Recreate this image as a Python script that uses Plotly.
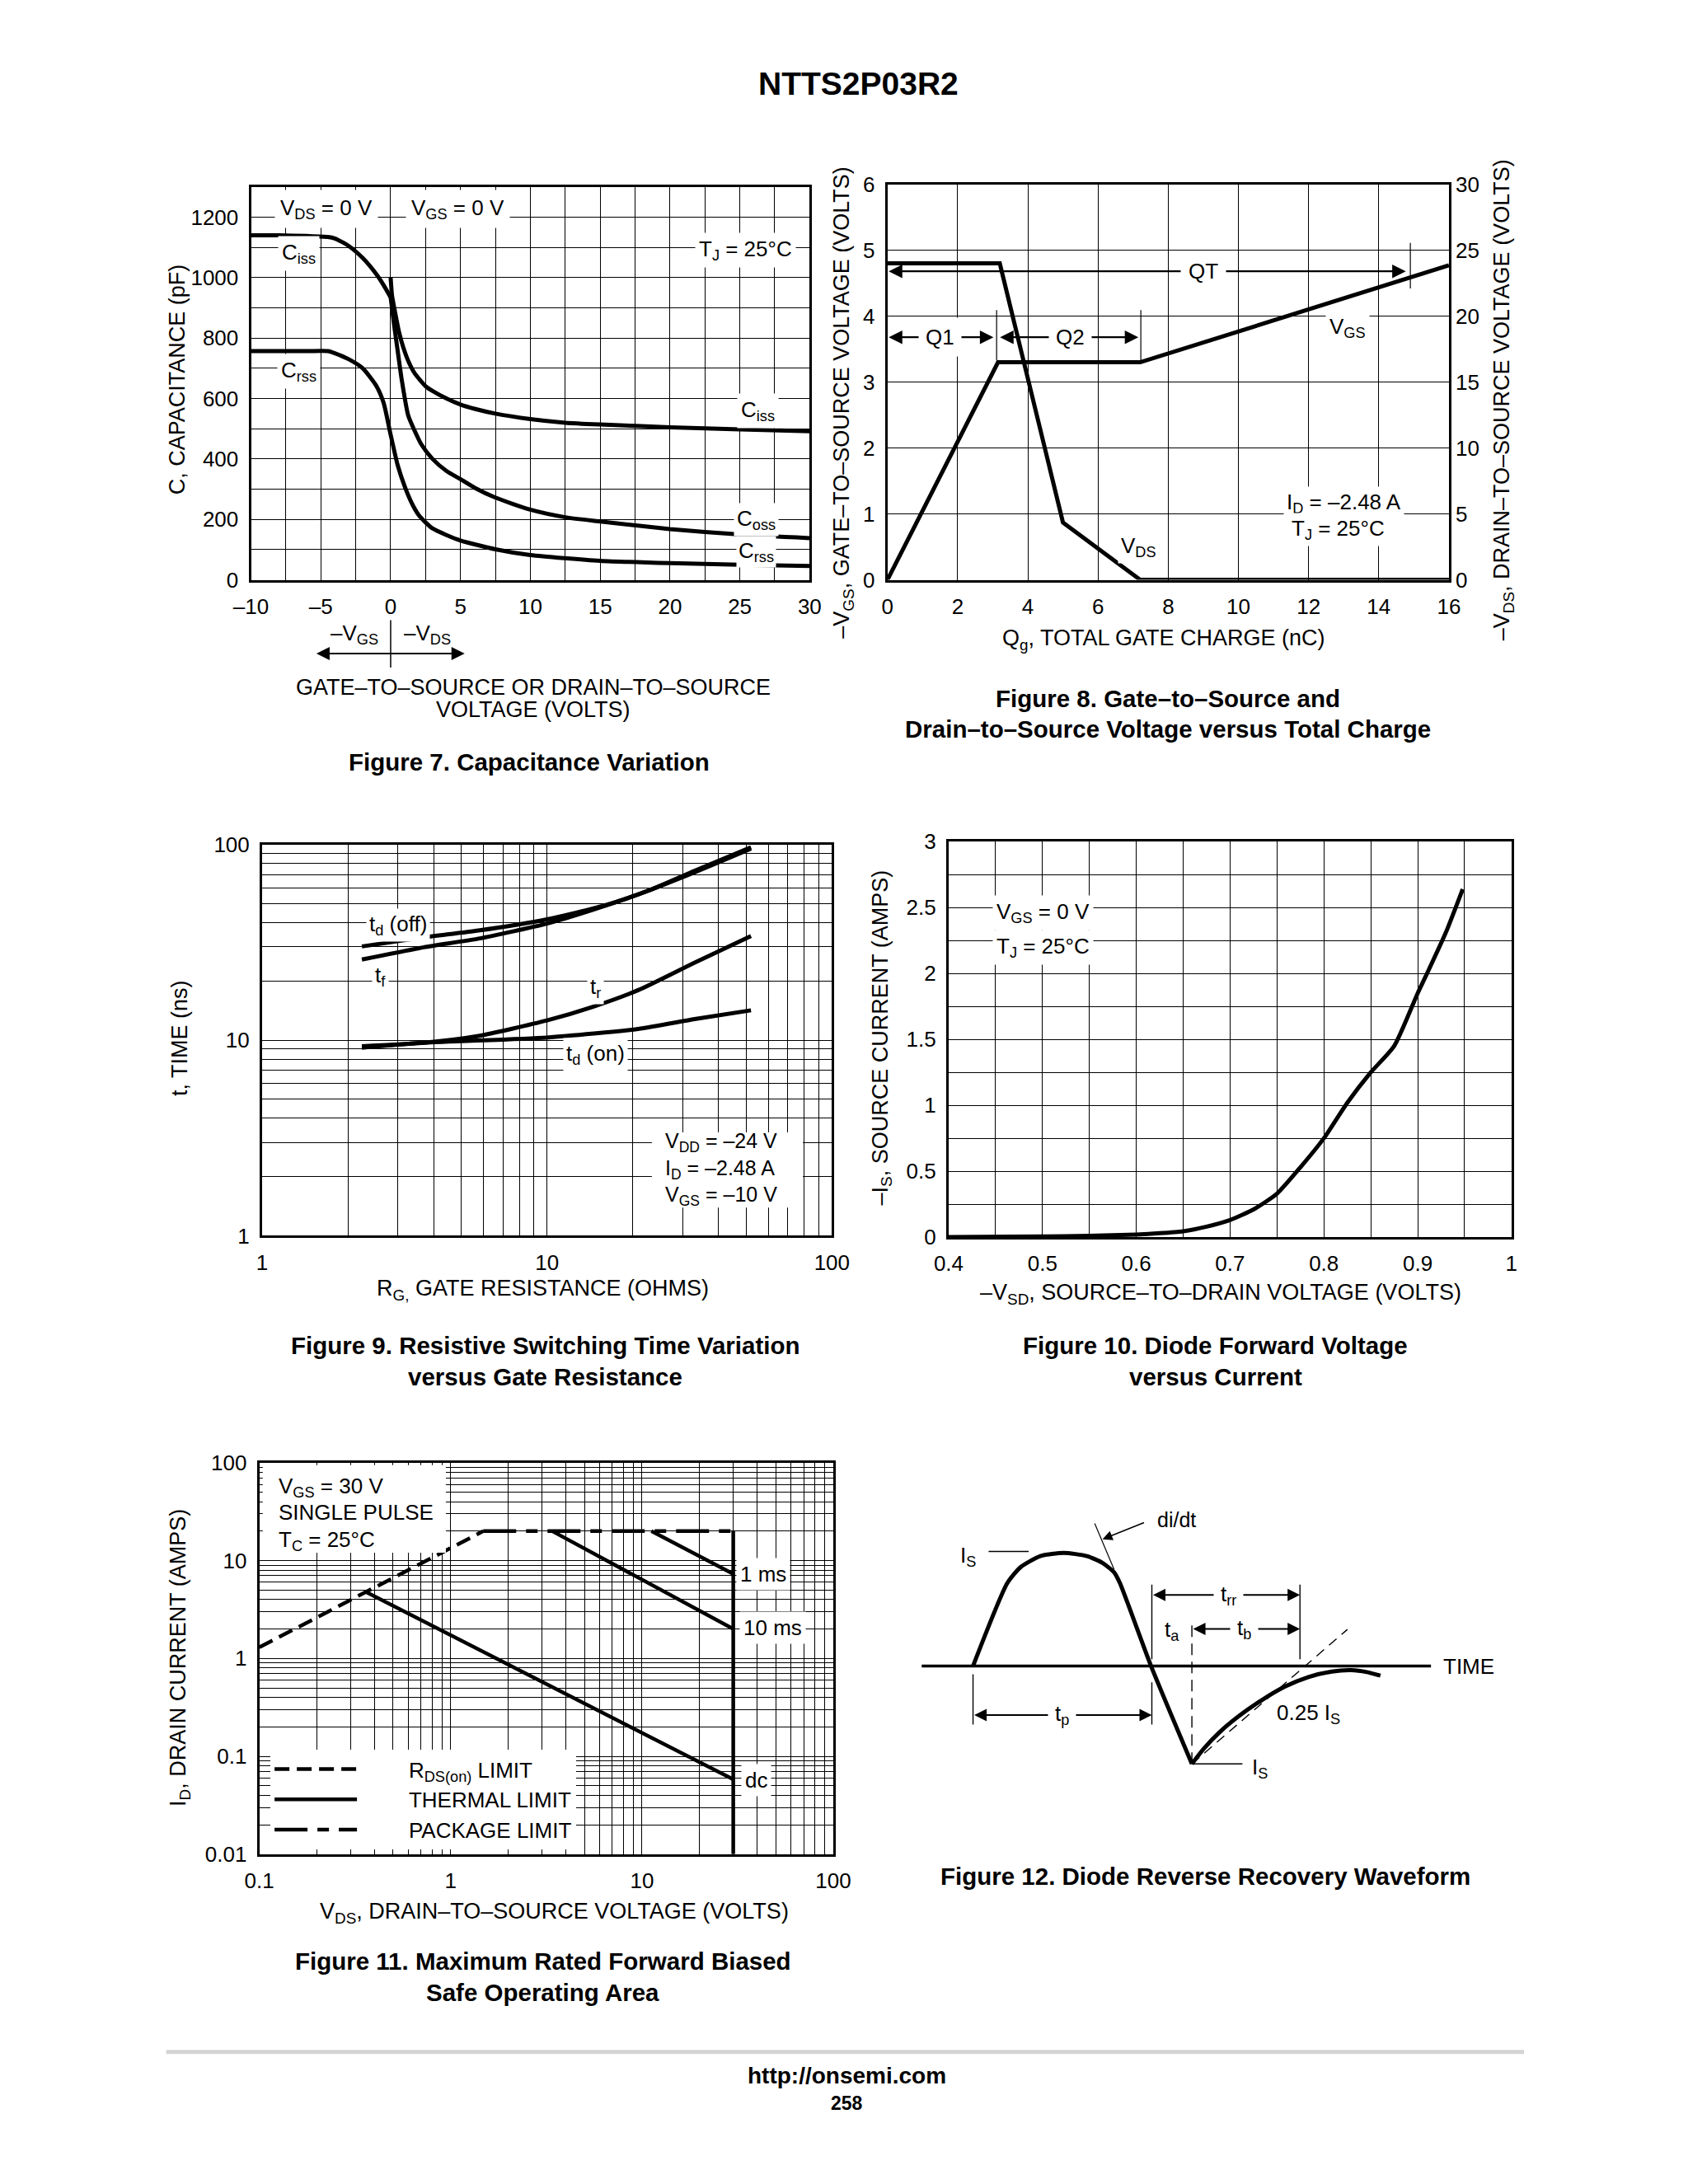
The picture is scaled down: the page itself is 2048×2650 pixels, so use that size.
import math
import plotly.graph_objects as go

# ---------------- DATA ----------------
# Figure 7: capacitance vs voltage (left side = -VGS, right side = -VDS)
ciss_left_v = [-10, -8, -6, -4.5, -4, -3, -2, -1, -0.5, 0]
ciss_left_c = [1140, 1140, 1138, 1135, 1130, 1105, 1065, 1010, 975, 935]
ciss_right_v = [0, 0.1, 0.3, 0.6, 0.9, 1.3, 1.7, 2.5, 3, 4, 5, 6, 7.5, 10, 12.5, 15, 20, 25, 30]
ciss_right_c = [1000, 940, 890, 820, 770, 720, 685, 641, 625, 600, 580, 566, 550, 532, 520, 514, 505, 498, 492]
coss_v = [0, 0.2, 0.45, 0.8, 1.25, 1.7, 2.2, 3.0, 4.0, 5.0, 6.0, 7.5, 10, 12.5, 15, 20, 25, 30]
coss_c = [935, 860, 776, 660, 545, 495, 448, 400, 360, 333, 305, 272, 232, 207, 193, 168, 150, 138]
crss_v = [-10, -6, -4.5, -4, -3, -2, -1, -0.5, 0, 0.5, 1, 1.5, 2, 2.5, 3, 4, 5, 7.5, 10, 15, 20, 25, 30]
crss_c = [757, 757, 757, 750, 730, 700, 640, 585, 480, 380, 310, 255, 215, 190, 170, 148, 130, 101, 82, 63, 55, 50, 46]
cap_x_grid = [-10, -7.5, -5, -2.5, 0, 2.5, 5, 7.5, 10, 12.5, 15, 17.5, 20, 22.5, 25, 27.5, 30]
cap_x_text = ['–10', '', '–5', '', '0', '', '5', '', '10', '', '15', '', '20', '', '25', '', '30']
cap_y_grid = [0, 100, 200, 300, 400, 500, 600, 700, 800, 900, 1000, 1100, 1200, 1300]
cap_y_text = ['0', '', '200', '', '400', '', '600', '', '800', '', '1000', '', '1200', '']

# Figure 8: gate charge
vgs_qg = [0, 3.15, 7.2, 16]
vgs_v = [0, 3.3, 3.3, 4.77]
vds_qg = [0, 3.2, 5.0, 7.2, 16]
vds_v = [24, 24, 4.35, 0, 0]
qg_ticks = [0, 2, 4, 6, 8, 10, 12, 14, 16]
vgs_ticks = [0, 1, 2, 3, 4, 5, 6]
vds_ticks = [0, 5, 10, 15, 20, 25, 30]

# Figure 9: switching time vs gate resistance
tdoff_rg = [2.24, 3.7, 5.75, 10, 15.9, 22.9, 33, 52]
tdoff_t = [30.1, 33.5, 36.3, 41.4, 48.7, 58.3, 73.3, 96.8]
tf_rg = [2.24, 3.7, 5.75, 10, 14.5, 20.9, 33, 52]
tf_t = [25.8, 29.8, 33.0, 39.4, 46.4, 55.6, 72.1, 95.2]
tr_rg = [2.24, 3.7, 5.75, 10, 14.5, 20.9, 33, 52]
tr_t = [9.3, 9.7, 10.5, 12.6, 14.8, 18.0, 24.9, 34.0]
tdon_rg = [2.24, 3.7, 10, 20.9, 33, 52]
tdon_t = [9.15, 9.7, 10.3, 11.4, 12.8, 14.2]
log_grid_1_100 = [1, 2, 3, 4, 5, 6, 7, 8, 9, 10, 20, 30, 40, 50, 60, 70, 80, 90, 100]
log_text_1_100 = ['1', '', '', '', '', '', '', '', '', '10', '', '', '', '', '', '', '', '', '100']

# Figure 10: diode forward voltage
vsd = [0.40, 0.50, 0.55, 0.60, 0.625, 0.65, 0.675, 0.70, 0.725, 0.75, 0.775, 0.80, 0.825, 0.85, 0.875, 0.90, 0.91, 0.93, 0.948]
i_s = [0.0, 0.005, 0.01, 0.02, 0.03, 0.045, 0.08, 0.13, 0.21, 0.33, 0.53, 0.75, 1.02, 1.25, 1.45, 1.85, 2.0, 2.31, 2.64]
vsd_grid = [0.4, 0.45, 0.5, 0.55, 0.6, 0.65, 0.7, 0.75, 0.8, 0.85, 0.9, 0.95, 1.0]
vsd_text = ['0.4', '', '0.5', '', '0.6', '', '0.7', '', '0.8', '', '0.9', '', '1']
is_grid = [0, 0.25, 0.5, 0.75, 1, 1.25, 1.5, 1.75, 2, 2.25, 2.5, 2.75, 3]
is_text = ['0', '', '0.5', '', '1', '', '1.5', '', '2', '', '2.5', '', '3']

# Figure 11: safe operating area
soa_rds_v = [0.1, 1.48]
soa_rds_i = [1.3, 20]
soa_pkg_v = [1.48, 30]
soa_pkg_i = [20, 20]
soa_dc_v = [0.36, 30]
soa_dc_i = [4.8, 0.058]
soa_10ms_v = [3.4, 30]
soa_10ms_i = [20, 2.0]
soa_1ms_v = [11.2, 30]
soa_1ms_i = [20, 7.3]
soa_vmax_v = [30, 30]
soa_vmax_i = [20, 0.01]
soa_x_grid = [0.1, 0.2, 0.3, 0.4, 0.5, 0.6, 0.7, 0.8, 0.9, 1, 2, 3, 4, 5, 6, 7, 8, 9, 10,
              20, 30, 40, 50, 60, 70, 80, 90, 100]
soa_x_text = ['0.1'] + [''] * 8 + ['1'] + [''] * 8 + ['10'] + [''] * 8 + ['100']
soa_y_grid = [0.01, 0.02, 0.03, 0.04, 0.05, 0.06, 0.07, 0.08, 0.09, 0.1, 0.2, 0.3, 0.4, 0.5, 0.6,
              0.7, 0.8, 0.9, 1, 2, 3, 4, 5, 6, 7, 8, 9, 10, 20, 30, 40, 50, 60, 70, 80, 90, 100]
soa_y_text = ['0.01'] + [''] * 8 + ['0.1'] + [''] * 8 + ['1'] + [''] * 8 + ['10'] + [''] * 8 + ['100']

# Figure 12: diode reverse recovery waveform (schematic units)
wave_t = [1.27, 2.15, 2.50, 3.00, 3.60, 4.20, 4.60, 4.90, 5.05, 5.85, 6.90]
wave_i = [0, 3.05, 3.65, 4.05, 4.17, 4.05, 3.80, 3.45, 3.05, 0, -3.60]
recov_t = [6.90, 7.20, 7.60, 8.10, 8.70, 9.30, 9.90, 10.50, 11.00, 11.40, 11.75]
recov_i = [-3.60, -3.05, -2.45, -1.85, -1.25, -0.75, -0.40, -0.20, -0.15, -0.22, -0.35]

# ---------------- LAYOUT HELPERS ----------------
W, H = 1224.0, 1584.0   # page frame units
CX, SX = 15.2, 0.971    # frame calibration
CY, SY = 13.3, 0.9788


def px(x):
    return ((x - CX) / SX) / W


def py(y):
    return 1 - ((y - CY) / SY) / H


FONT = "Liberation Sans, Arial, Helvetica, sans-serif"
L10 = math.log10
TK = 26       # tick label size
AT = 27       # axis title size
LB = 26       # in-plot label size
FT = 29.5     # figure caption size
NB = '\u00a0'

fig = go.Figure()


def add(x, y, xa, ya, width=5, dash='solid', name=None, legend=False, spline=False):
    line = dict(color='black', width=width, dash=dash)
    if spline:
        line['shape'] = 'spline'
        line['smoothing'] = 0.6
    fig.add_trace(go.Scatter(x=x, y=y, xaxis=xa, yaxis=ya, mode='lines', line=line,
                             name=name, showlegend=legend, hoverinfo='skip'))


def axstyle(**kw):
    d = dict(showline=True, linecolor='black', linewidth=3, mirror=True,
             showgrid=True, gridcolor='black', gridwidth=1.4, zeroline=False,
             ticks='', tickmode='array', tickfont=dict(size=TK, color='black', family=FONT),
             ticklabelstandoff=7, fixedrange=True)
    d.update(kw)
    return d


ann = []
shapes = []


def text(x, y, s, xref='paper', yref='paper', size=LB, bold=False, bg=None, angle=0,
         xanchor='center', yanchor='middle', align='center', pad=2):
    if bold:
        s = '<b>' + s + '</b>'
    d = dict(x=x, y=y, xref=xref, yref=yref, text=s, showarrow=False,
             font=dict(size=size, color='black', family=FONT), textangle=angle,
             xanchor=xanchor, yanchor=yanchor, align=align, borderpad=pad)
    if bg:
        d['bgcolor'] = bg
    ann.append(d)


def arrow(x0, y0, x1, y1, xref, yref, both=False, width=2.2, size=1.5, ayref=None):
    ann.append(dict(x=x1, y=y1, ax=x0, ay=y0, xref=xref, yref=yref, axref=xref,
                    ayref=ayref or yref, text='', showarrow=True, arrowhead=2, startarrowhead=2,
                    arrowsize=size, startarrowsize=size, arrowwidth=width, arrowcolor='black',
                    arrowside='end+start' if both else 'end', standoff=0, startstandoff=0))


def seg(x0, y0, x1, y1, xref, yref, width=1.5, dash='solid', color='black'):
    shapes.append(dict(type='line', x0=x0, y0=y0, x1=x1, y1=y1, xref=xref, yref=yref,
                       line=dict(color=color, width=width, dash=dash)))


def whitebox(x0, y0, x1, y1, xref, yref):
    shapes.append(dict(type='rect', x0=x0, y0=y0, x1=x1, y1=y1, xref=xref, yref=yref,
                       fillcolor='white', line=dict(width=0), layer='above'))


# ---------------- FIGURE 7 ----------------
add(ciss_left_v, ciss_left_c, 'x', 'y', spline=True)
add(ciss_right_v, ciss_right_c, 'x', 'y', spline=True)
add(coss_v, coss_c, 'x', 'y', spline=True)
add(crss_v, crss_c, 'x', 'y', spline=True)

# ---------------- FIGURE 8 ----------------
add(vgs_qg, vgs_v, 'x2', 'y2')
add(vds_qg, vds_v, 'x2', 'y3')

# ---------------- FIGURE 9 ----------------
add(tdoff_rg, tdoff_t, 'x4', 'y4', spline=True)
add(tf_rg, tf_t, 'x4', 'y4', spline=True)
add(tr_rg, tr_t, 'x4', 'y4', spline=True)
add(tdon_rg, tdon_t, 'x4', 'y4', spline=True)

# ---------------- FIGURE 10 ----------------
add(vsd, i_s, 'x5', 'y5', spline=True)

# ---------------- FIGURE 11 ----------------
pad_name = NB * 8
add(soa_rds_v, soa_rds_i, 'x6', 'y6', width=4.5, dash='18px,9px', name=pad_name + 'R<sub>DS(on)</sub> LIMIT', legend=True)
add(soa_dc_v, soa_dc_i, 'x6', 'y6', width=4.5, name=pad_name + 'THERMAL LIMIT', legend=True)
add(soa_pkg_v, soa_pkg_i, 'x6', 'y6', width=4.5, dash='40px,12px,14px,12px', name=pad_name + 'PACKAGE LIMIT', legend=True)
add(soa_10ms_v, soa_10ms_i, 'x6', 'y6', width=4.5)
add(soa_1ms_v, soa_1ms_i, 'x6', 'y6', width=4.5)
add(soa_vmax_v, soa_vmax_i, 'x6', 'y6', width=4.5)

# ---------------- FIGURE 12 ----------------
add(wave_t, wave_i, 'x7', 'y7', width=5, spline=True)
add(recov_t, recov_i, 'x7', 'y7', width=5, spline=True)

# ---------------- AXES ----------------
layout = dict(
    width=2048, height=2650, margin=dict(l=0, r=0, t=0, b=0),
    paper_bgcolor='white', plot_bgcolor='white',
    font=dict(family=FONT, color='black', size=TK),
    xaxis=axstyle(domain=[px(178), px(580)], range=[-10, 30], tickvals=cap_x_grid, ticktext=cap_x_text, anchor='y'),
    yaxis=axstyle(domain=[py(416), py(134)], range=[0, 1300], tickvals=cap_y_grid, ticktext=cap_y_text, anchor='x'),
    xaxis2=axstyle(domain=[px(636), px(1040)], range=[0, 16], tickvals=qg_ticks, ticktext=[str(v) for v in qg_ticks], anchor='y2'),
    yaxis2=axstyle(domain=[py(416), py(132)], range=[0, 6], tickvals=vgs_ticks, ticktext=[str(v) for v in vgs_ticks], anchor='x2'),
    yaxis3=axstyle(range=[0, 30], tickvals=vds_ticks, ticktext=[str(v) for v in vds_ticks], anchor='x2',
                   overlaying='y2', side='right', showgrid=False, showline=False, mirror=False),
    xaxis4=axstyle(type='log', domain=[px(186), px(596)], range=[0, 2], tickvals=log_grid_1_100, ticktext=log_text_1_100, anchor='y4'),
    yaxis4=axstyle(type='log', domain=[py(887), py(606)], range=[0, 2], tickvals=log_grid_1_100, ticktext=log_text_1_100, anchor='x4'),
    xaxis5=axstyle(domain=[px(680), px(1085)], range=[0.4, 1.0], tickvals=vsd_grid, ticktext=vsd_text, anchor='y5'),
    yaxis5=axstyle(domain=[py(888), py(604)], range=[0, 3], tickvals=is_grid, ticktext=is_text, anchor='x5'),
    xaxis6=axstyle(type='log', domain=[px(184), px(597)], range=[-1, 2], tickvals=soa_x_grid, ticktext=soa_x_text, anchor='y6'),
    yaxis6=axstyle(type='log', domain=[py(1331), py(1050)], range=[-2, 2], tickvals=soa_y_grid, ticktext=soa_y_text, anchor='x6'),
    xaxis7=dict(domain=[px(650), px(1090)], range=[-0.43, 15.3], visible=False, anchor='y7', fixedrange=True),
    yaxis7=dict(domain=[py(1290), py(1070)], range=[-4.82, 6.46], visible=False, anchor='x7', fixedrange=True),
    showlegend=True,
    legend=dict(x=px(192), y=py(1256), xanchor='left', yanchor='top', bgcolor='white',
                font=dict(size=26, color='black', family=FONT), tracegroupgap=0,
                itemwidth=100, borderwidth=0, traceorder='normal'),
)

# ---------------- TEXT: page ----------------
text(px(615), py(60), 'NTTS2P03R2', size=39, bold=True)
shapes.append(dict(type='line', xref='paper', yref='paper', x0=px(117), x1=px(1094), y0=py(1473), y1=py(1473),
                   line=dict(color='#d4d4d4', width=5)))
text(px(607), py(1490), 'http://onsemi.com', size=28, bold=True)
text(px(607), py(1510), '258', size=23, bold=True)

# ---------------- TEXT: figure 7 ----------------
text(-4.6, 1228, 'V<sub>DS</sub> = 0 V', 'x', 'y', bg='white', pad=6)
text(4.8, 1228, 'V<sub>GS</sub> = 0 V', 'x', 'y', bg='white', pad=6)
text(-6.6, 1080, 'C<sub>iss</sub>', 'x', 'y', bg='white', pad=4)
text(-6.6, 690, 'C<sub>rss</sub>', 'x', 'y', bg='white', pad=4)
text(25.4, 1090, 'T<sub>J</sub> = 25°C', 'x', 'y', bg='white', pad=4)
text(26.3, 560, 'C<sub>iss</sub>', 'x', 'y', bg='white', pad=4)
text(26.2, 200, 'C<sub>oss</sub>', 'x', 'y', bg='white', pad=3)
text(26.2, 92, 'C<sub>rss</sub>', 'x', 'y', bg='white', pad=2)
arrow(-5.4, py(469), 5.3, py(469), 'x', 'paper', both=True, width=2, size=1.6, ayref='pixel')
ann[-1]['ay'] = 0
shapes.append(dict(type='line', xref='x', yref='paper', x0=0, x1=0, y0=py(445), y1=py(479),
                   line=dict(color='black', width=1.5)))
text(-2.6, py(455), '–V<sub>GS</sub>', 'x', 'paper')
text(2.6, py(455), '–V<sub>DS</sub>', 'x', 'paper')
text(px(381), py(493), 'GATE–TO–SOURCE OR DRAIN–TO–SOURCE', size=AT)
text(px(381), py(509), 'VOLTAGE (VOLTS)', size=AT)
text(px(378), py(547), 'Figure 7. Capacitance Variation', size=FT, bold=True)
text(px(125), py(272), 'C, CAPACITANCE (pF)', size=AT, angle=-90)

# ---------------- TEXT: figure 8 ----------------
arrow(0, 4.68, 14.77, 4.68, 'x2', 'y2', both=True)
arrow(0, 3.68, 3.02, 3.68, 'x2', 'y2', both=True)
arrow(3.17, 3.68, 7.15, 3.68, 'x2', 'y2', both=True)
seg(3.11, 3.33, 3.11, 4.09, 'x2', 'y2', width=1.2)
seg(7.22, 3.3, 7.22, 4.09, 'x2', 'y2', width=1.2)
seg(14.9, 4.42, 14.9, 5.11, 'x2', 'y2', width=1.2)
text(9.0, 4.68, 'QT', 'x2', 'y2', bg='white', pad=9)
text(1.5, 3.68, 'Q1', 'x2', 'y2', bg='white', pad=8)
text(5.2, 3.68, 'Q2', 'x2', 'y2', bg='white', pad=8)
text(13.1, 3.82, 'V<sub>GS</sub>', 'x2', 'y2', bg='white', pad=4)
text(7.15, 0.5, 'V<sub>DS</sub>', 'x2', 'y2', bg='white', pad=3)
text(13.0, 1.16, 'I<sub>D</sub> = –2.48 A', 'x2', 'y2', bg='white', pad=3)
text(12.85, 0.76, 'T<sub>J</sub> = 25°C', 'x2', 'y2', bg='white', pad=3)
text(px(604), py(289), '–V<sub>GS</sub>, GATE–TO–SOURCE VOLTAGE (VOLTS)', size=AT, angle=-90)
text(px(1079), py(287), '–V<sub>DS</sub>, DRAIN–TO–SOURCE VOLTAGE (VOLTS)', size=AT, angle=-90)
text(px(835), py(459), 'Q<sub>g</sub>, TOTAL GATE CHARGE (nC)', size=AT)
text(px(838), py(501), 'Figure 8. Gate–to–Source and', size=FT, bold=True)
text(px(838), py(523), 'Drain–to–Source Voltage versus Total Charge', size=FT, bold=True)

# ---------------- TEXT: figure 9 ----------------
whitebox(0.684, 0.072, 0.949, 0.264, 'x4 domain', 'y4 domain')
text(L10(3.0), L10(38.8), 't<sub>d</sub> (off)', 'x4', 'y4', bg='white', pad=3)
text(L10(2.6), L10(21.2), 't<sub>f</sub>', 'x4', 'y4', bg='white', pad=3)
text(L10(14.8), L10(18.6), 't<sub>r</sub>', 'x4', 'y4', bg='white', pad=3)
text(L10(14.8), L10(8.4), 't<sub>d</sub> (on)', 'x4', 'y4', bg='white', pad=3)
text(L10(25.5), L10(2.2), 'V<sub>DD</sub> = –24 V<br>I<sub>D</sub> = –2.48 A<br>V<sub>GS</sub> = –10 V',
     'x4', 'y4', xanchor='left', align='left', size=25)
text(px(127), py(745), 't, TIME (ns)', size=AT, angle=-90)
text(px(388), py(926), 'R<sub>G,</sub> GATE RESISTANCE (OHMS)', size=AT)
text(px(390), py(966), 'Figure 9. Resistive Switching Time Variation', size=FT, bold=True)
text(px(390), py(988), 'versus Gate Resistance', size=FT, bold=True)

# ---------------- TEXT: figure 10 ----------------
text(0.447, 2.46, 'V<sub>GS</sub> = 0 V', 'x5', 'y5', bg='white', pad=4, xanchor='left')
text(0.447, 2.2, 'T<sub>J</sub> = 25°C', 'x5', 'y5', bg='white', pad=4, xanchor='left')
text(px(632), py(745), '–I<sub>S</sub>, SOURCE CURRENT (AMPS)', size=AT, angle=-90)
text(px(876), py(929), '–V<sub>SD</sub>, SOURCE–TO–DRAIN VOLTAGE (VOLTS)', size=AT)
text(px(872), py(966), 'Figure 10. Diode Forward Voltage', size=FT, bold=True)
text(px(872), py(988), 'versus Current', size=FT, bold=True)

# ---------------- TEXT: figure 11 ----------------
whitebox(0.006, 0.77, 0.325, 0.994, 'x6 domain', 'y6 domain')
text(L10(0.122), L10(56), 'V<sub>GS</sub> = 30 V', 'x6', 'y6', xanchor='left')
text(L10(0.122), L10(31.3), 'SINGLE PULSE', 'x6', 'y6', xanchor='left')
text(L10(0.122), L10(16), 'T<sub>C</sub> = 25°C', 'x6', 'y6', xanchor='left')
text(L10(43), L10(7.3), '1 ms', 'x6', 'y6', bg='white', pad=4)
text(L10(48), L10(2.05), '10 ms', 'x6', 'y6', bg='white', pad=4)
text(L10(39.5), L10(0.057), 'dc', 'x6', 'y6', bg='white', pad=4)
text(px(127), py(1190), 'I<sub>D</sub>, DRAIN CURRENT (AMPS)', size=AT, angle=-90)
text(px(396), py(1373), 'V<sub>DS</sub>, DRAIN–TO–SOURCE VOLTAGE (VOLTS)', size=AT)
text(px(388), py(1408), 'Figure 11. Maximum Rated Forward Biased', size=FT, bold=True)
text(px(388), py(1430), 'Safe Operating Area', size=FT, bold=True)

# ---------------- TEXT: figure 12 ----------------
seg(-0.05, 0, 13.05, 0, 'x7', 'y7', width=3.5)
seg(6.90, -3.60, 10.90, 1.35, 'x7', 'y7', width=1.4, dash='12px,8px')
seg(6.90, -3.60, 6.90, 1.70, 'x7', 'y7', width=1.4, dash='14px,8px')
seg(5.87, 0.25, 5.87, 3.0, 'x7', 'y7', width=1.4)
seg(9.68, 0.25, 9.68, 3.0, 'x7', 'y7', width=1.4)
seg(1.27, -0.3, 1.27, -2.15, 'x7', 'y7', width=1.4)
seg(5.87, -0.6, 5.87, -2.15, 'x7', 'y7', width=1.4)
seg(1.67, 4.22, 2.70, 4.22, 'x7', 'y7', width=1.4)
seg(6.90, -3.60, 8.20, -3.60, 'x7', 'y7', width=1.4)
seg(4.40, 5.25, 4.90, 3.55, 'x7', 'y7', width=1.2)
arrow(5.87, 2.62, 9.68, 2.62, 'x7', 'y7', both=True, width=2, size=1.5)
arrow(6.90, 1.37, 9.68, 1.37, 'x7', 'y7', both=True, width=2, size=1.5)
arrow(1.27, -1.80, 5.87, -1.80, 'x7', 'y7', both=True, width=2, size=1.5)
arrow(5.70, 5.30, 4.60, 4.67, 'x7', 'y7', width=1.6, size=1.5)
text(7.85, 2.62, 't<sub>rr</sub>', 'x7', 'y7', bg='white', pad=8)
text(8.25, 1.37, 't<sub>b</sub>', 'x7', 'y7', bg='white', pad=8)
text(6.38, 1.30, 't<sub>a</sub>', 'x7', 'y7')
text(3.55, -1.80, 't<sub>p</sub>', 'x7', 'y7', bg='white', pad=8)
text(1.15, 4.05, 'I<sub>S</sub>', 'x7', 'y7')
text(5.95, 5.40, 'di/dt', 'x7', 'y7', xanchor='left', size=25)
text(9.9, -1.75, '0.25 I<sub>S</sub>', 'x7', 'y7')
text(8.65, -3.75, 'I<sub>S</sub>', 'x7', 'y7')
text(13.3, 0.0, 'TIME', 'x7', 'y7', xanchor='left')
text(px(865), py(1347), 'Figure 12. Diode Reverse Recovery Waveform', size=FT, bold=True)

layout['annotations'] = ann
layout['shapes'] = shapes
fig.update_layout(**layout)
fig.write_html("out.html")
